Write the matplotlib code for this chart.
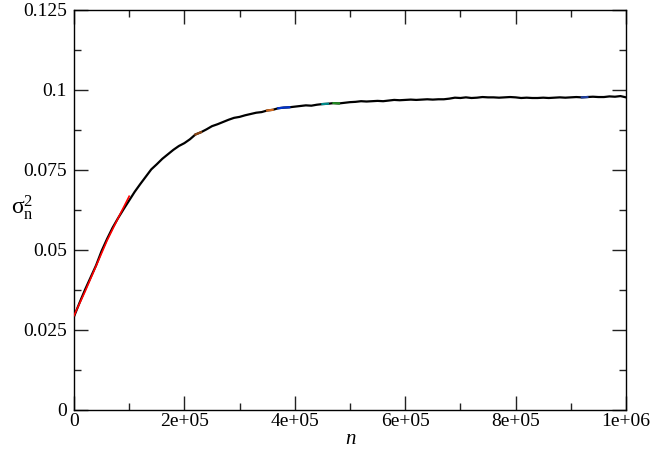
import numpy as np
import matplotlib
matplotlib.use("Agg")
import matplotlib.pyplot as plt

n_vals = np.arange(0, 1000001, 10000)
sigma2 = [0.0292, 0.0335, 0.0376, 0.0414, 0.0452, 0.0497, 0.0535, 0.0570, 0.0600, 0.0628,
          0.0655, 0.0682, 0.0706, 0.0729, 0.0752, 0.0768, 0.0785, 0.0799, 0.0813, 0.0825,
          0.0834, 0.0846, 0.0861, 0.0868, 0.0877, 0.0887, 0.0893, 0.0900, 0.0907, 0.0913,
          0.0916, 0.0921, 0.0925, 0.0929, 0.0931, 0.0936, 0.0938, 0.0943, 0.0945, 0.0946,
          0.0948, 0.0950, 0.0952, 0.0951, 0.0954, 0.0956, 0.0957, 0.0959, 0.0958, 0.0960,
          0.0962, 0.0963, 0.0965, 0.0964, 0.0965, 0.0966, 0.0965, 0.0967, 0.0969, 0.0968,
          0.0969, 0.0970, 0.0969, 0.0970, 0.0971, 0.0970, 0.0971, 0.0971, 0.0973, 0.0976,
          0.0975, 0.0977, 0.0975, 0.0976, 0.0978, 0.0977, 0.0977, 0.0976, 0.0977, 0.0978,
          0.0977, 0.0975, 0.0976, 0.0975, 0.0975, 0.0976, 0.0975, 0.0976, 0.0977, 0.0976,
          0.0977, 0.0978, 0.0977, 0.0978, 0.0979, 0.0978, 0.0978, 0.0980, 0.0979, 0.0981,
          0.0977]

# red curve visible only at the start
n_red = [0, 20000, 40000, 60000, 80000, 100000]
sigma2_red = [0.0295, 0.0370, 0.0450, 0.0530, 0.0600, 0.0668]

# short coloured bits showing through the black curve (index ranges into n_vals)
bits = [((22, 23), "#8b4513"), ((37, 39), "#0033cc"), ((35, 36), "#d2691e"),
        ((45, 46), "#008b8b"), ((47, 48), "#228b22"), ((92, 93), "#1f3f9f")]

xticks = [0, 200000, 400000, 600000, 800000, 1000000]
xticklabels = ["0", "2e+05", "4e+05", "6e+05", "8e+05", "1e+06"]
yticks = [0, 0.025, 0.05, 0.075, 0.1, 0.125]
yticklabels = ["0", "0.025", "0.05", "0.075", "0.1", "0.125"]

plt.rcParams["font.family"] = ["Liberation Serif", "DejaVu Serif"]
plt.rcParams["mathtext.fontset"] = "custom"
plt.rcParams["mathtext.rm"] = "Liberation Serif"
plt.rcParams["mathtext.it"] = "Liberation Serif:italic"

fig = plt.figure(figsize=(6.52, 4.5), dpi=100)
ax = fig.add_axes([74 / 652, 40 / 450, 552 / 652, 400 / 450])

ax.plot(n_vals, sigma2, color="black", lw=1.6, zorder=3)
for (a, b), c in bits:
    ax.plot(n_vals[a:b + 1], sigma2[a:b + 1], color=c, lw=1.6, zorder=4)
ax.plot(n_red, sigma2_red, color="red", lw=1.2, zorder=5)

ax.set_xlim(0, 1000000)
ax.set_ylim(0, 0.125)
ax.set_xticks(xticks)
ax.set_xticklabels(xticklabels)
ax.set_yticks(yticks)
ax.set_yticklabels(yticklabels)
ax.set_xticks(np.arange(100000, 1000000, 200000), minor=True)
ax.set_yticks(np.arange(0.0125, 0.125, 0.025), minor=True)
ax.tick_params(which="both", direction="in", top=True, right=True, width=1.0,
               labelsize=14, color="#222222")
ax.tick_params(which="major", length=10)
ax.tick_params(axis="y", which="major", pad=5)
ax.tick_params(axis="x", which="major", pad=2)
ax.tick_params(which="minor", length=5)
for s in ax.spines.values():
    s.set_linewidth(1.0)

ax.set_xlabel("n", fontstyle="italic", fontsize=15, labelpad=0)
ax.set_ylabel(r"$\mathrm{σ}_\mathrm{n}^\mathrm{2}$", fontsize=17, rotation=0)
ax.yaxis.set_label_coords(-0.094, 0.47)

fig.savefig("out.png", dpi=100)
